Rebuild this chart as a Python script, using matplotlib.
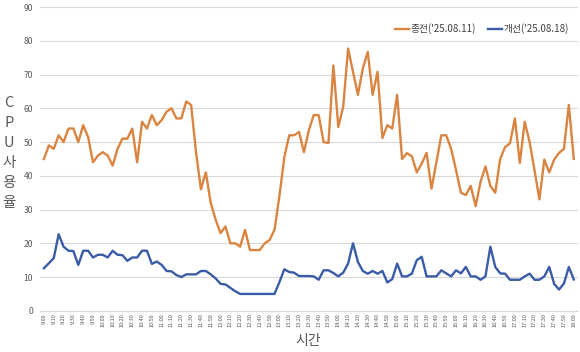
import matplotlib
matplotlib.use("Agg")
import matplotlib.pyplot as plt

plt.rcParams["font.family"] = ["Noto Sans CJK KR", "DejaVu Sans"]

# 5-minute samples, 9:00 ~ 18:00
times = ["{}:{:02d}".format(h, m) for h in range(9, 18) for m in range(0, 60, 5)] + ["18:00"]

before = [45, 49, 48, 52, 50, 54, 54, 50, 55, 51.5,
          44, 46, 47, 46, 43, 48, 51, 51, 54, 44,
          56, 54, 58, 55, 56.5, 59, 60, 57, 57, 62,
          61, 47, 36, 41, 32, 27, 23, 25, 20, 20,
          19, 24, 18, 18, 18, 20, 21, 24, 34, 45.5,
          52, 52, 53, 47, 53.5, 58, 58, 50, 49.7, 72.7,
          54.5, 60.4, 77.7, 70.8, 64, 71.8, 76.7, 64, 70.8, 51.2,
          55, 54, 64, 45, 46.7, 45.8, 41, 43.6, 46.8, 36.2,
          44, 52, 52, 48, 41.7, 35, 34.3, 37, 31, 38.2,
          42.8, 37, 35, 45, 48.5, 49.6, 57, 43.8, 56, 50,
          41.7, 33, 44.8, 41, 44.8, 46.8, 48, 61, 45]

after = [12.6, 14.1, 15.6, 22.7, 19, 17.8, 17.7, 13.6, 17.8, 17.8,
         15.8, 16.6, 16.6, 15.8, 17.8, 16.6, 16.5, 14.8, 15.8, 15.8,
         17.8, 17.8, 13.9, 14.6, 13.6, 11.8, 11.7, 10.6, 10, 10.8,
         10.8, 10.8, 11.8, 11.8, 10.8, 9.6, 8, 7.8, 6.8, 5.8,
         5, 5, 5, 5, 5, 5, 5, 5, 8.5, 12.3,
         11.5, 11.3, 10.3, 10.3, 10.3, 10.2, 9.2, 12, 12, 11.2,
         10.2, 11.3, 14, 20, 14.5, 11.8, 11, 11.8, 11, 11.8,
         8.4, 9.4, 14, 10.2, 10.2, 11, 15, 16, 10.2, 10.2,
         10.2, 12, 11.1, 10.2, 12, 11.1, 13, 10.2, 10.2, 9.2,
         10.2, 19, 13, 11.1, 11, 9.2, 9.2, 9.2, 10.2, 11,
         9.2, 9.2, 10.2, 13, 8, 6.3, 8.1, 13, 9.3]

legend_labels = ["종전('25.08.11)", "개선('25.08.18)"]
colors = ["#DA8441", "#3A5CA6"]
ylabel_chars = ["C", "P", "U", "사", "용", "율"]

fig = plt.figure(figsize=(5.8, 3.52), dpi=100)
ax = fig.add_axes([0.069, 0.117, 0.927, 0.863])

x = list(range(len(times)))
ax.plot(x, before, color=colors[0], linewidth=1.7, label=legend_labels[0])
ax.plot(x, after, color=colors[1], linewidth=1.7, label=legend_labels[1])

ax.set_ylim(0, 90)
ax.set_yticks(range(0, 91, 10))
ax.set_xlim(-0.8, len(times) - 0.2)
ax.set_xticks(x[::2])
ax.set_xticklabels(times[::2], rotation=90, fontsize=4, color="#595959")
ax.tick_params(axis="y", labelsize=6.2, labelcolor="#595959", length=0, pad=5)
ax.tick_params(axis="x", length=0, pad=2)

ax.grid(axis="y", color="#D9D9D9", linewidth=0.8)
ax.set_axisbelow(True)
for side in ["top", "right", "left"]:
    ax.spines[side].set_visible(False)
ax.spines["bottom"].set_color("#D9D9D9")

fig.text(308 / 580, 1 - 341 / 352, "시간", ha="center", va="center", fontsize=10, color="#595959")
# vertical, one character per row
for i, ch in enumerate(ylabel_chars):
    fig.text(9 / 580, 1 - (103 + i * 20) / 352, ch, ha="center", va="center",
             fontsize=10.5, color="#595959")

ax.legend(loc="upper right", bbox_to_anchor=(1.0, 0.975), ncol=2, frameon=False,
          fontsize=7, handlelength=1.4, handletextpad=0.2, columnspacing=1.2,
          labelcolor="#404040")

plt.savefig("out.png", dpi=100)
